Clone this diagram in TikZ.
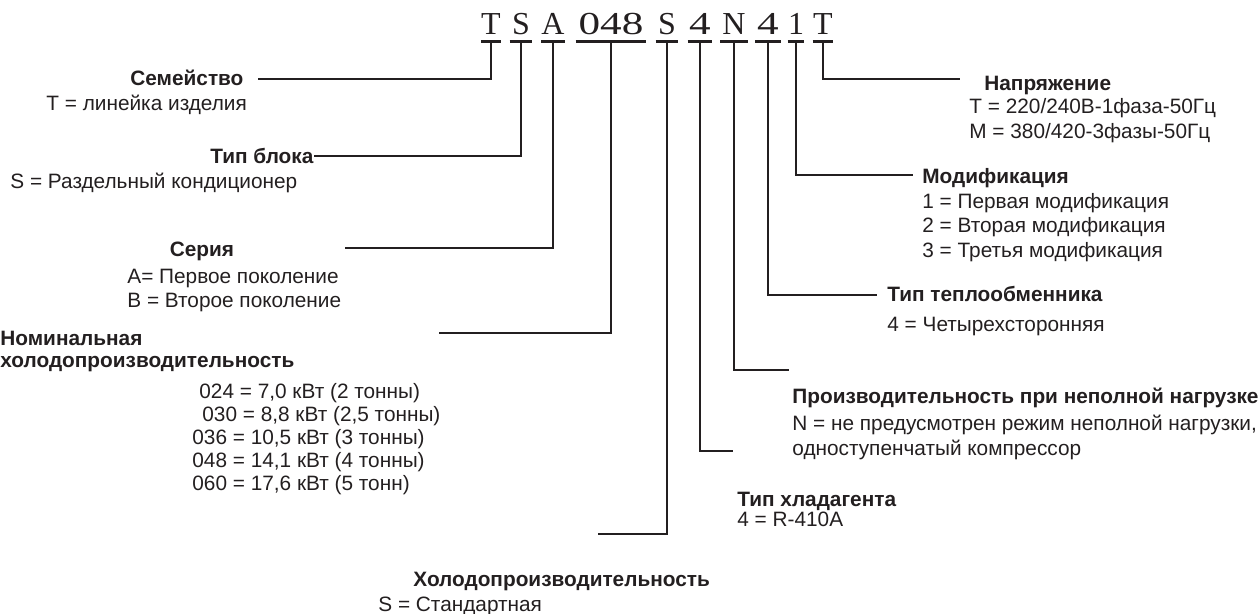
\documentclass[tikz,border=0pt]{standalone}
\usepackage{fontspec}
\setmainfont{Liberation Sans}
\newfontfamily\codefont{Liberation Serif}
\definecolor{ink}{HTML}{231F20}

\begin{document}
\begin{tikzpicture}[
    x=0.5pt, y=-0.5pt,
    code/.style={font={\codefont\fontsize{16}{16}\selectfont}, text=ink, inner xsep=0pt, inner ysep=3pt, text depth=0pt, anchor=base},
    uline/.style={line width=1.2pt, ink},
    conn/.style={line width=1pt, ink},
    head/.style={font={\fontsize{10.4}{12}\selectfont\bfseries}, text=ink, inner sep=0pt, anchor=base west},
    desc/.style={font={\fontsize{10.4}{12}\selectfont}, text=ink, inner sep=0pt, anchor=base west}
  ]
    \useasboundingbox (0,0) rectangle (1259,614);

    % Model code
    \foreach \n/\t/\x/\w in {c1/T/491/9pt, c2/S/521/11pt, c3/A/553/10.5pt,
        c4/{\scalebox{1.35}[1]{048}}/611/35pt, c5/S/667/11pt, c6/{\scalebox{1.35}[1]{4}}/700/12pt,
        c7/N/734/13.5pt, c8/{\scalebox{1.35}[1]{4}}/768/12.5pt, c9/1/796/7.5pt, c10/T/823/10pt} {
      \node[code, minimum width=\w] (\n) at (\x,35) {\t};
      \draw[uline] (\n.south west) -- (\n.south east);
    }

    % Left side
    \node[head] (fam) at (130,86) {Семейство};
    \node[desc] (famT) at (46,111) {T = линейка изделия};
    \node[head] (blk) at (210,164) {Тип блока};
    \node[desc] (blkS) at (10,189) {S = Раздельный кондиционер};
    \node[head, anchor=base] (ser) at (202,257) {Серия};
    \node[desc] (serA) at (127,284) {A= Первое поколение};
    \node[desc] (serB) at (127,308) {B = Второе поколение};
    \node[head] (nom) at (0,346) {Номинальная};
    \node[head] (nom2) at (0,368) {холодопроизводительность};
    \node[desc] (v1) at (199,399) {024 = 7,0 кВт (2 тонны)};
    \node[desc] (v2) at (202,422) {030 = 8,8 кВт (2,5 тонны)};
    \node[desc] (v3) at (192,445) {036 = 10,5 кВт (3 тонны)};
    \node[desc] (v4) at (192,468) {048 = 14,1 кВт (4 тонны)};
    \node[desc] (v5) at (192,491) {060 = 17,6 кВт (5 тонн)};
    \node[head] (std) at (413,587) {Холодопроизводительность};
    \node[desc] (stdS) at (378,611) {S = Стандартная};

    % Right side
    \node[head] (volt) at (984,91) {Напряжение};
    \node[desc] (voltT) at (969,114) {T = 220/240В-1фаза-50Гц};
    \node[desc] (voltM) at (969,139) {M = 380/420-3фазы-50Гц};
    \node[head] (mod) at (922,184) {Модификация};
    \node[desc] (mod1) at (922,209) {1 = Первая модификация};
    \node[desc] (mod2) at (922,233) {2 = Вторая модификация};
    \node[desc] (mod3) at (922,258) {3 = Третья модификация};
    \node[head] (hex) at (887,302) {Тип теплообменника};
    \node[desc] (hex4) at (887,332) {4 = Четырехсторонняя};
    \node[head] (part) at (792,404) {Производительность при неполной нагрузке};
    \node[desc] (partN) at (792,431) {N = не предусмотрен режим неполной нагрузки,};
    \node[desc] (part2) at (792,456) {одноступенчатый компрессор};
    \node[head] (ref) at (737,507) {Тип хладагента};
    \node[desc] (ref4) at (737,527) {4 = R-410A};

    % Leader lines
    \coordinate (famend) at (258,79);
    \coordinate (serend) at (345,248);
    \coordinate (nomend) at (439,333);
    \coordinate (stdend) at (598,534);
    \coordinate (refend) at (733,451);
    \coordinate (partend) at (789,370);
    \coordinate (hexend) at (877,295);
    \coordinate (modend) at (913,175);
    \coordinate (voltend) at (960,79);
    \draw[conn] (c1.south) |- (famend);
    \draw[conn] (c2.south) |- (blk.east);
    \draw[conn] (c3.south) |- (serend);
    \draw[conn] (c4.south) |- (nomend);
    \draw[conn] (c5.south) |- (stdend);
    \draw[conn] (c6.south) |- (refend);
    \draw[conn] (c7.south) |- (partend);
    \draw[conn] (c8.south) |- (hexend);
    \draw[conn] (c9.south) |- (modend);
    \draw[conn] (c10.south) |- (voltend);
\end{tikzpicture}
\end{document}
